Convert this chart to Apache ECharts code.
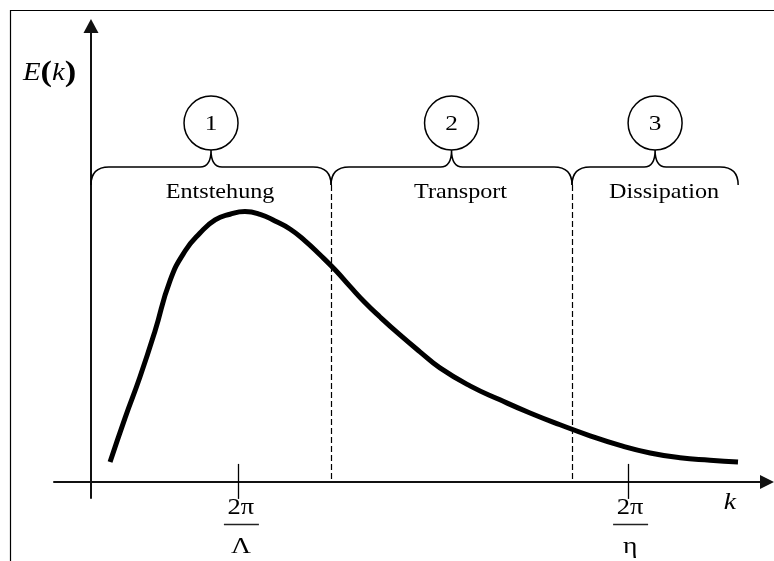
<!DOCTYPE html>
<html>
<head>
<meta charset="utf-8">
<script src="https://cdn.jsdelivr.net/npm/echarts@6/dist/echarts.min.js"></script>
<style>
  html, body { margin: 0; padding: 0; background: #fff; }
  #chart { width: 774px; height: 561px; }
</style>
</head>
<body>
<div id="chart"></div>
<script>
// schematic energy spectrum E(k) with the three ranges
const kValues = [0.129, 0.230, 0.331, 0.433, 0.534, 0.636, 0.737, 0.839, 0.940, 1.041, 1.143,
  1.244, 1.345, 1.447, 1.548, 1.650, 1.751, 1.852, 1.954, 2.089, 2.224, 2.359, 2.562, 2.765,
  2.968, 3.171, 3.374, 3.577, 3.780, 3.982, 4.185, 4.374];
const eValues = [0.074, 0.238, 0.391, 0.563, 0.750, 0.861, 0.928, 0.977, 0.998, 1.008, 0.998,
  0.973, 0.943, 0.899, 0.847, 0.791, 0.729, 0.669, 0.615, 0.548, 0.485, 0.425, 0.358, 0.306,
  0.257, 0.213, 0.172, 0.136, 0.108, 0.090, 0.081, 0.074];

const regionNames = ['Entstehung', 'Transport', 'Dissipation'];
const regionNumbers = ['1', '2', '3'];
const regionBounds = [0, 1.623, 3.252, 4.375];

const tickValues = [1.0, 3.631];
const tickNumerators = ['2π', '2π'];
const tickDenominators = ['Λ', 'η'];

const SERIF = '"Liberation Serif", "Times New Roman", serif';
const BRACE_LEVEL = 1.107;   // height where the braces end (data units)
const STRETCH = 1.15;        // the text in the original is a bit wide

const chart = echarts.init(document.getElementById('chart'), null, { renderer: 'canvas' });

function crisp(v) {
  return Math.round(v - 0.5) + 0.5;
}

function renderRegion(params, api) {
  const i = params.dataIndex;
  const a = api.coord([api.value(0), BRACE_LEVEL]);
  const b = api.coord([api.value(1), BRACE_LEVEL]);
  const yE = a[1], yM = yE - 18, yT = yE - 35;
  const xm = (a[0] + b[0]) / 2;
  const path = 'M' + a[0] + ',' + yE +
    ' Q' + a[0] + ',' + yM + ' ' + (a[0] + 18) + ',' + yM +
    ' L' + (xm - 11) + ',' + yM +
    ' Q' + xm + ',' + yM + ' ' + xm + ',' + yT +
    ' Q' + xm + ',' + yM + ' ' + (xm + 11) + ',' + yM +
    ' L' + (b[0] - 18) + ',' + yM +
    ' Q' + b[0] + ',' + yM + ' ' + b[0] + ',' + yE;
  const children = [
    { type: 'path', shape: { pathData: path }, style: { fill: null, stroke: '#000', lineWidth: 1.5 } },
    { type: 'circle', shape: { cx: xm, cy: yT - 27, r: 27 }, style: { fill: '#fff', stroke: '#000', lineWidth: 1.5 } },
    { type: 'text', x: xm, y: yT - 26, scaleX: STRETCH,
      style: { text: regionNumbers[i], font: '22px ' + SERIF, fill: '#000', align: 'center', verticalAlign: 'middle' } },
    { type: 'text', x: xm + 9, y: yE + 7, scaleX: STRETCH,
      style: { text: regionNames[i], font: '21px ' + SERIF, fill: '#000', align: 'center', verticalAlign: 'middle' } }
  ];
  if (i < regionNames.length - 1) {
    const base = api.coord([api.value(1), 0]);
    const x = crisp(b[0]);
    children.push({ type: 'line', shape: { x1: x, y1: yE, x2: x, y2: base[1] },
      style: { stroke: '#000', lineWidth: 1.2, lineDash: [6, 3] } });
  }
  return { type: 'group', children: children };
}

function renderTick(params, api) {
  const i = params.dataIndex;
  const p = api.coord([api.value(0), 0]);
  const x = crisp(p[0]);
  return {
    type: 'group',
    children: [
      { type: 'line', shape: { x1: x, y1: p[1] - 18, x2: x, y2: p[1] + 17 },
        style: { stroke: '#000', lineWidth: 1.3 } },
      { type: 'text', x: p[0] + 2, y: p[1] + 26, scaleX: STRETCH,
        style: { text: tickNumerators[i], font: '23px ' + SERIF, fill: '#000', align: 'center', verticalAlign: 'middle' } },
      { type: 'line', shape: { x1: p[0] - 15, y1: crisp(p[1] + 43), x2: p[0] + 20, y2: crisp(p[1] + 43) },
        style: { stroke: '#222', lineWidth: 1.3 } },
      { type: 'text', x: p[0] + 2, y: p[1] + 65, scaleX: STRETCH,
        style: { text: tickDenominators[i], font: '24px ' + SERIF, fill: '#000', align: 'center', verticalAlign: 'middle' } }
    ]
  };
}

const option = {
  animation: false,
  backgroundColor: '#fff',
  grid: { left: 54, right: 7, top: 26, bottom: 63, containLabel: false },
  xAxis: {
    type: 'value', min: -0.25, max: 4.57,
    axisLine: { onZero: true, symbol: ['none', 'triangle'], symbolSize: [14, 14],
      lineStyle: { color: '#111', width: 2 } },
    axisTick: { show: false }, axisLabel: { show: false }, splitLine: { show: false }
  },
  yAxis: {
    type: 'value', min: -0.06, max: 1.7,
    axisLine: { onZero: true, symbol: ['none', 'triangle'], symbolSize: [15, 14],
      lineStyle: { color: '#111', width: 2 } },
    axisTick: { show: false }, axisLabel: { show: false }, splitLine: { show: false }
  },
  graphic: [
    { type: 'polyline', shape: { points: [[10.5, 561], [10.5, 10.5], [774, 10.5]] },
      style: { fill: null, stroke: '#000', lineWidth: 1.2 } },
    { type: 'text', x: 23, y: 73, scaleX: STRETCH,
      style: {
        text: '{i|E}{p|(}{i|k}{p|)}', verticalAlign: 'middle', fill: '#000',
        rich: {
          i: { font: 'italic 25px ' + SERIF, fill: '#000' },
          p: { font: 'bold 30px ' + SERIF, fill: '#000' }
        }
      } },
    { type: 'text', x: 730, y: 503, scaleX: STRETCH,
      style: { text: 'k', font: 'italic 24px ' + SERIF, fill: '#000', align: 'center', verticalAlign: 'middle' } }
  ],
  series: [
    {
      type: 'line',
      data: kValues.map((k, i) => [k, eValues[i]]),
      smooth: 0.5,
      symbol: 'none',
      lineStyle: { color: '#000', width: 5 },
      silent: true
    },
    {
      type: 'custom',
      clip: false,
      data: regionNames.map((n, i) => [regionBounds[i], regionBounds[i + 1]]),
      renderItem: renderRegion,
      silent: true
    },
    {
      type: 'custom',
      clip: false,
      data: tickValues.map(k => [k]),
      renderItem: renderTick,
      silent: true
    }
  ]
};

chart.setOption(option);
</script>
</body>
</html>
